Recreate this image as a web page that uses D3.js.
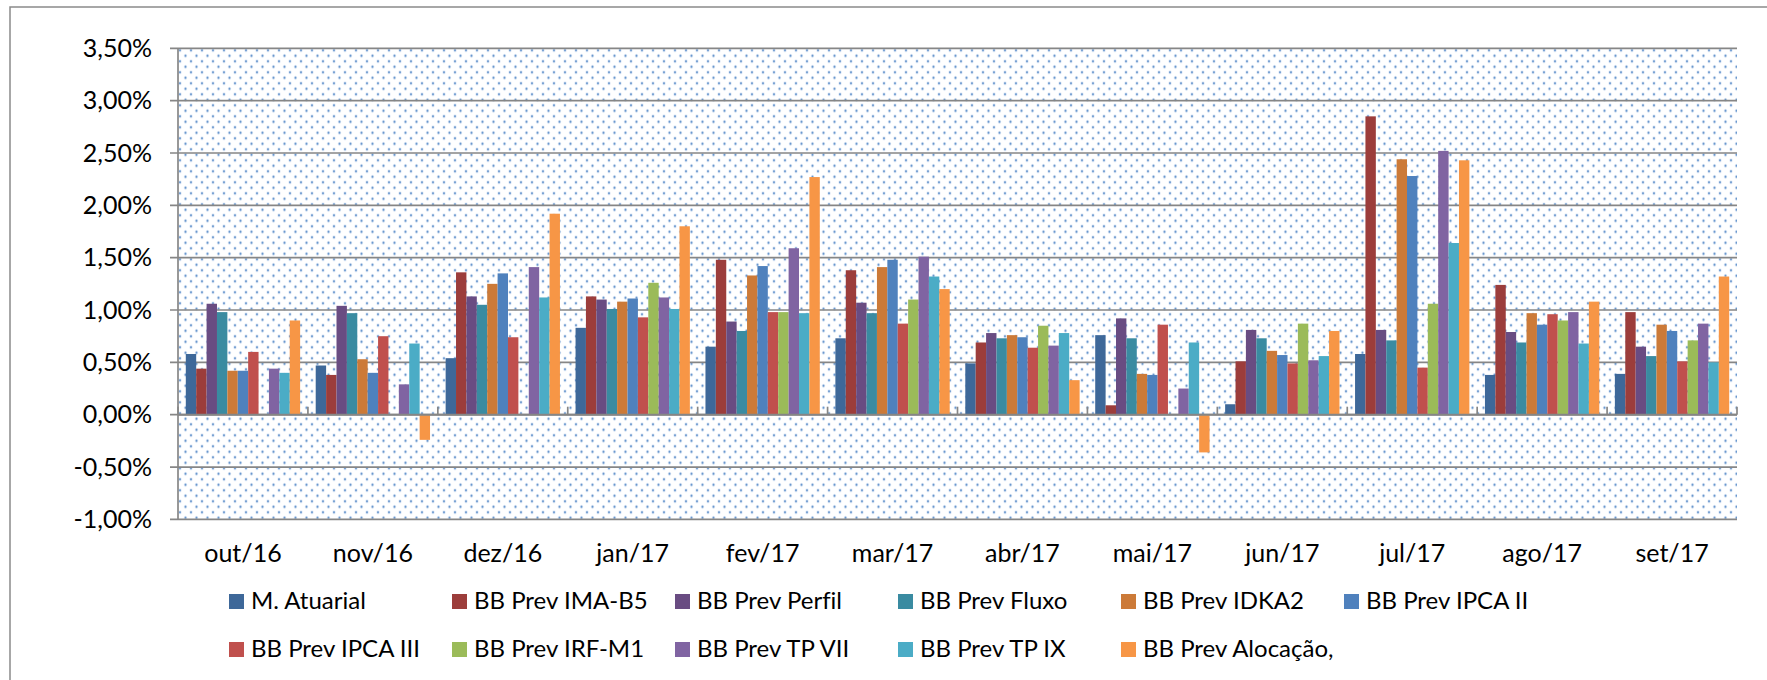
<!DOCTYPE html>
<html>
<head>
<meta charset="utf-8">
<script src="https://cdn.jsdelivr.net/npm/d3@7"></script>
<style>
  html, body { margin: 0; padding: 0; background: #fff; }
  svg { display: block; }
  text { font-family: Lato, "Liberation Sans", sans-serif; fill: #000; font-variant-ligatures: none; }
</style>
</head>
<body>
<svg id="chart" width="1767" height="680"></svg>
<script>
// Categories (months)
const months = ['out/16', 'nov/16', 'dez/16', 'jan/17', 'fev/17', 'mar/17',
                'abr/17', 'mai/17', 'jun/17', 'jul/17', 'ago/17', 'set/17'];

// Series values (% per month), null = no bar
const mAtuarial   = [0.58, 0.47, 0.54, 0.83, 0.65, 0.73, 0.49, 0.76, 0.10, 0.58, 0.38, 0.39];
const prevImaB5   = [0.44, 0.38, 1.36, 1.13, 1.48, 1.38, 0.69, 0.09, 0.51, 2.85, 1.24, 0.98];
const prevPerfil  = [1.06, 1.04, 1.13, 1.10, 0.89, 1.07, 0.78, 0.92, 0.81, 0.81, 0.79, 0.65];
const prevFluxo   = [0.98, 0.97, 1.05, 1.01, 0.80, 0.97, 0.73, 0.73, 0.73, 0.71, 0.69, 0.56];
const prevIdka2   = [0.42, 0.53, 1.25, 1.08, 1.33, 1.41, 0.76, 0.39, 0.61, 2.44, 0.97, 0.86];
const prevIpca2   = [0.42, 0.40, 1.35, 1.11, 1.42, 1.48, 0.74, 0.38, 0.57, 2.28, 0.86, 0.80];
const prevIpca3   = [0.60, 0.75, 0.74, 0.93, 0.98, 0.87, 0.64, 0.86, 0.49, 0.45, 0.96, 0.51];
const prevIrfM1   = [null, null, null, 1.26, 0.98, 1.10, 0.85, null, 0.87, 1.06, 0.90, 0.71];
const prevTp7     = [0.44, 0.29, 1.41, 1.12, 1.59, 1.51, 0.66, 0.25, 0.52, 2.52, 0.98, 0.87];
const prevTp9     = [0.40, 0.68, 1.12, 1.01, 0.97, 1.32, 0.78, 0.69, 0.56, 1.64, 0.68, 0.50];
const prevAlocacao = [0.90, -0.24, 1.92, 1.80, 2.27, 1.20, 0.33, -0.36, 0.80, 2.43, 1.08, 1.32];

const seriesNames = ['M. Atuarial', 'BB Prev IMA-B5', 'BB Prev Perfil', 'BB Prev Fluxo',
                     'BB Prev IDKA2', 'BB Prev IPCA II', 'BB Prev IPCA III', 'BB Prev IRF-M1',
                     'BB Prev TP VII', 'BB Prev TP IX', 'BB Prev Alocação,'];
const seriesValues = [mAtuarial, prevImaB5, prevPerfil, prevFluxo, prevIdka2, prevIpca2,
                      prevIpca3, prevIrfM1, prevTp7, prevTp9, prevAlocacao];
const seriesColors = ['#3e6899', '#9c3d3b', '#694c82', '#3a8ba1', '#cc7a38', '#4f81bd',
                      '#c0504d', '#9bbb59', '#8064a2', '#4bacc6', '#f79646'];

// Y axis ticks (%)
const yTicks = [-1, -0.5, 0, 0.5, 1, 1.5, 2, 2.5, 3, 3.5];

const svg = d3.select('#chart');
const plot = { left: 178, right: 1737, top: 48.3, bottom: 519.4 };

const ptBR = d3.formatLocale({ decimal: ',', thousands: '.', grouping: [3], currency: ['R$', ''], minus: '-' });
const fmt = ptBR.format('.2f');

const x0 = d3.scaleBand().domain(months).range([plot.left, plot.right]);
const x1 = d3.scaleBand().domain(seriesNames).range([0, x0.bandwidth()])
  .paddingInner(0).paddingOuter(0.75);
const y = d3.scaleLinear().domain([-1, 3.5]).range([plot.bottom, plot.top]);

// dotted pattern fill for the plot area
const defs = svg.append('defs');
const pat = defs.append('pattern')
  .attr('id', 'dots')
  .attr('patternUnits', 'userSpaceOnUse')
  .attr('x', plot.left).attr('y', plot.top)
  .attr('width', 11).attr('height', 11);
pat.append('rect').attr('width', 11).attr('height', 11).attr('fill', '#fff');
[[2, 2], [7.5, 7.5]].forEach(p => {
  pat.append('circle').attr('cx', p[0]).attr('cy', p[1]).attr('r', 1.7)
    .attr('fill', '#a9c3e6').attr('opacity', 0.45);
  pat.append('circle').attr('cx', p[0]).attr('cy', p[1]).attr('r', 0.95)
    .attr('fill', '#5388c6');
});

// outer chart border (left and top visible)
svg.append('path')
  .attr('d', 'M10,680 L10,7 L1767,7')
  .attr('fill', 'none').attr('stroke', '#8a8a8a').attr('stroke-width', 1.5);

svg.append('rect')
  .attr('x', plot.left).attr('y', plot.top)
  .attr('width', plot.right - plot.left).attr('height', plot.bottom - plot.top)
  .attr('fill', 'url(#dots)');

// gridlines
svg.append('g').selectAll('line')
  .data(yTicks)
  .enter().append('line')
  .attr('x1', plot.left - 8).attr('x2', plot.right)
  .attr('y1', d => y(d)).attr('y2', d => y(d))
  .attr('stroke', '#868686').attr('stroke-width', 1.7);

// bars
const groups = svg.append('g').selectAll('g')
  .data(seriesNames)
  .enter().append('g')
  .attr('fill', (d, i) => seriesColors[i]);

groups.selectAll('rect')
  .data((name, i) => seriesValues[i].map((v, j) => ({ name, month: months[j], v })).filter(d => d.v !== null))
  .enter().append('rect')
  .attr('x', d => x0(d.month) + x1(d.name))
  .attr('width', x1.bandwidth())
  .attr('y', d => y(Math.max(0, d.v)))
  .attr('height', d => Math.abs(y(d.v) - y(0)));

// y axis line
svg.append('line')
  .attr('x1', plot.left).attr('x2', plot.left)
  .attr('y1', plot.top).attr('y2', plot.bottom)
  .attr('stroke', '#868686').attr('stroke-width', 1.7);

// category axis at zero with upward ticks
svg.append('line')
  .attr('x1', plot.left).attr('x2', plot.right)
  .attr('y1', y(0)).attr('y2', y(0))
  .attr('stroke', '#868686').attr('stroke-width', 1.9);

const boundaries = months.map(m => x0(m)).concat([plot.right]);
svg.append('g').selectAll('line')
  .data(boundaries)
  .enter().append('line')
  .attr('x1', d => d).attr('x2', d => d)
  .attr('y1', y(0) - 8).attr('y2', y(0))
  .attr('stroke', '#868686').attr('stroke-width', 1.7);

// y tick labels
svg.append('g').selectAll('text')
  .data(yTicks)
  .enter().append('text')
  .attr('x', 152)
  .attr('y', d => y(d))
  .attr('dy', '0.35em')
  .attr('text-anchor', 'end')
  .style('font-size', '25px')
  .text(d => fmt(d) + '%');

// category labels
svg.append('g').selectAll('text')
  .data(months)
  .enter().append('text')
  .attr('x', d => x0(d) + x0.bandwidth() / 2)
  .attr('y', 562)
  .attr('text-anchor', 'middle')
  .style('font-size', '25px')
  .text(d => d);

// legend, two rows of six
const legendX = d3.scaleLinear().domain([0, 1]).range([229, 452]);
const legend = svg.append('g').selectAll('g')
  .data(seriesNames)
  .enter().append('g')
  .attr('transform', (d, i) => `translate(${legendX(i % 6)},${i < 6 ? 609 : 657})`);

legend.append('rect')
  .attr('x', 0).attr('y', -15)
  .attr('width', 15).attr('height', 15)
  .attr('fill', (d, i) => seriesColors[i]);

legend.append('text')
  .attr('x', 22).attr('y', 0)
  .style('font-size', '24px')
  .text(d => d);
</script>
</body>
</html>
